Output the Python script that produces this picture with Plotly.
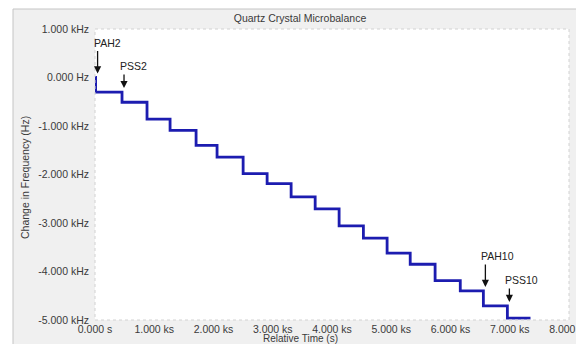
import plotly.graph_objects as go

# ---- data ----
layer_names = ["PAH2", "PSS2", "PAH3", "PSS3", "PAH4", "PSS4", "PAH5", "PSS5", "PAH6",
               "PSS6", "PAH7", "PSS7", "PAH8", "PSS8", "PAH9", "PSS9", "PAH10", "PSS10"]
drop_times = [10, 456, 878, 1267, 1706, 2060, 2500, 2905, 3310, 3716, 4120, 4530,
              4930, 5320, 5740, 6165, 6555, 6960]          # s
levels = [-300, -510, -860, -1090, -1400, -1640, -1980, -2190, -2460, -2710, -3060,
          -3310, -3620, -3850, -4190, -4400, -4710, -4960]  # Hz after each deposition
start_time, start_level = 0, 0
end_time = 7350
labelled = ["PAH2", "PSS2", "PAH10", "PSS10"]

x_tickvals = [0, 1000, 2000, 3000, 4000, 5000, 6000, 7000, 8000]
x_ticktext = ["0.000 s", "1.000 ks", "2.000 ks", "3.000 ks", "4.000 ks", "5.000 ks",
              "6.000 ks", "7.000 ks", "8.000 ks"]
y_tickvals = [1000, 0, -1000, -2000, -3000, -4000, -5000]
y_ticktext = ["1.000 kHz", "0.000 Hz", "-1.000 kHz", "-2.000 kHz", "-3.000 kHz",
              "-4.000 kHz", "-5.000 kHz"]

# ---- layout geometry (page pixels; the page body adds an 8 px offset) ----
PAGE_W, PAGE_H = 584, 344
OFF = 8
W, H = PAGE_W - OFF, PAGE_H - OFF
PLOT_L, PLOT_R, PLOT_T, PLOT_B = 95, 569, 29, 320
ML, MR, MT, MB = PLOT_L - OFF, PAGE_W - PLOT_R, PLOT_T - OFF, PAGE_H - PLOT_B
PW, PH = PLOT_R - PLOT_L, PLOT_B - PLOT_T


def px(xp):
    return (xp - PLOT_L) / PW


def py(yp):
    return (PLOT_B - yp) / PH


FONT = "Liberation Sans, Arial, sans-serif"
TXT = "#3a3a3a"

xs = [start_time] + drop_times + [end_time]
ys = [start_level] + levels + [levels[-1]]

fig = go.Figure()
fig.add_trace(go.Scatter(x=xs, y=ys, mode="lines", line=dict(color="#1c1cb0", width=2.8, shape="hv"),
                         showlegend=False, hoverinfo="skip"))

annotations = []
prev_levels = [start_level] + levels[:-1]
for name in labelled:
    i = layer_names.index(name)
    is_pah = name.startswith("PAH")
    arrow_len = 24 if is_pah else 15
    annotations.append(dict(x=drop_times[i], y=prev_levels[i], xref="x", yref="y", text="",
                            showarrow=True, arrowhead=2, arrowsize=1.1, arrowwidth=1.3,
                            arrowcolor="#111111", ax=0, ay=-arrow_len, xshift=2, yshift=4))
    annotations.append(dict(x=drop_times[i], y=prev_levels[i], xref="x", yref="y", text=name,
                            showarrow=False, xanchor="left", yanchor="bottom",
                            xshift=-4, yshift=(arrow_len + 3),
                            font=dict(family=FONT, size=10.5, color="#222222")))

annotations.append(dict(text="Relative Time (s)", xref="paper", yref="paper", x=px(300), y=py(338),
                        xanchor="center", yanchor="middle", showarrow=False,
                        font=dict(family=FONT, size=10, color=TXT)))
annotations.append(dict(text="Change in Frequency (Hz)", xref="paper", yref="paper", x=px(25), y=py(178),
                        xanchor="center", yanchor="middle", showarrow=False, textangle=-90,
                        font=dict(family=FONT, size=10.5, color=TXT)))

shapes = [
    # white outer strips (top and left)
    dict(type="rect", xref="paper", yref="paper", x0=px(0), x1=px(PAGE_W), y0=py(0), y1=py(9),
         fillcolor="white", line=dict(width=0), layer="below"),
    dict(type="rect", xref="paper", yref="paper", x0=px(0), x1=px(13), y0=py(9), y1=py(PAGE_H),
         fillcolor="white", line=dict(width=0), layer="below"),
    # panel border
    dict(type="line", xref="paper", yref="paper", x0=px(13), x1=px(PAGE_W), y0=py(9), y1=py(9),
         line=dict(color="#c4c4c4", width=1)),
    dict(type="line", xref="paper", yref="paper", x0=px(13), x1=px(13), y0=py(9), y1=py(PAGE_H),
         line=dict(color="#c4c4c4", width=1)),
    # plot area border
    dict(type="rect", xref="paper", yref="paper", x0=0, x1=1, y0=0, y1=1,
         line=dict(color="#d2d2d2", width=1, dash="dot"), layer="above"),
]

fig.update_layout(
    width=W, height=H,
    margin=dict(l=ML, r=MR, t=MT, b=MB, pad=0, autoexpand=False),
    paper_bgcolor="#f0f0f0", plot_bgcolor="white",
    font=dict(family=FONT, size=10.5, color=TXT),
    title=dict(text="Quartz Crystal Microbalance", xref="container", yref="container",
               x=(300 - OFF) / W, y=1 - (18 - OFF) / H, xanchor="center", yanchor="middle",
               font=dict(family=FONT, size=10.5, color=TXT)),
    xaxis=dict(range=[0, 8000], tickvals=x_tickvals, ticktext=x_ticktext, showgrid=False,
               zeroline=False, showline=False, ticks="", ticklabelstandoff=1,
               ticklabeloverflow="allow", automargin=False,
               tickfont=dict(family=FONT, size=10.5, color=TXT), fixedrange=True),
    yaxis=dict(range=[-5000, 1000], tickvals=y_tickvals, ticktext=y_ticktext, showgrid=False,
               zeroline=False, showline=False, ticks="", ticklabelstandoff=5,
               ticklabeloverflow="allow", automargin=False,
               tickfont=dict(family=FONT, size=10.5, color=TXT), fixedrange=True),
    annotations=annotations,
    shapes=shapes,
    showlegend=False,
)

fig.write_html("out.html")
